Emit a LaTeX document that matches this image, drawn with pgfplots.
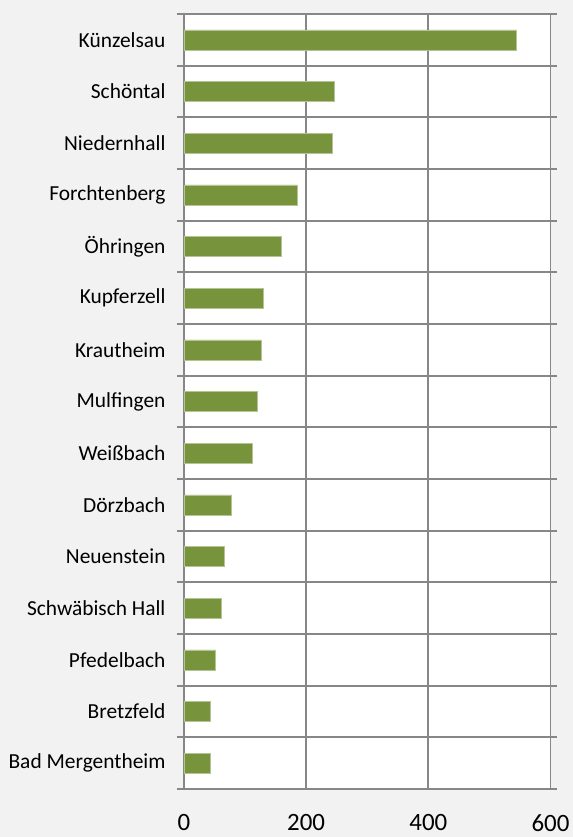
\documentclass[border=0pt]{standalone}
\usepackage{pgfplots}
\pgfplotsset{compat=1.18}
\usepackage{fontspec}
\setmainfont{Carlito}
\definecolor{bg}{HTML}{F2F2F2}
\definecolor{barc}{HTML}{77933C}
\definecolor{gridc}{HTML}{878787}
\begin{document}
\begin{tikzpicture}
\path[use as bounding box, fill=bg] (-184bp,-48bp) rectangle (389bp,789bp);
\begin{axis}[
  at={(0,0)}, anchor=south west,
  scale only axis,
  width=366.5bp, height=775bp,
  xbar, bar width=20bp,
  xmin=0, xmax=600,
  ymin=-0.5, ymax=14.5,
  y dir=reverse,
  xtick={0,200,400,600},
  ytick={0,...,14},
  yticklabels={Künzelsau,Schöntal,Niedernhall,Forchtenberg,Öhringen,Kupferzell,Krautheim,Mulfingen,Weißbach,Dörzbach,Neuenstein,Schwäbisch Hall,Pfedelbach,Bretzfeld,Bad Mergentheim},
  minor ytick={-0.5,0.5,...,14.5},
  xmajorgrids=true, ymajorgrids=false, yminorgrids=true,
  grid style={gridc, line width=1.8bp},
  minor grid style={gridc, line width=1.8bp},
  axis line style={gridc, line width=1.8bp},
  major tick length=0pt, minor tick length=7bp,
  tick align=outside,
  minor tick style={gridc, line width=1.8bp},
  axis background/.style={fill=white},
  /pgf/number format/assume math mode=true,
  xticklabel style={font=\fontsize{25}{30}\selectfont, inner sep=0pt, anchor=north, yshift=-25bp},
  yticklabel style={font=\fontsize{21.5}{25}\selectfont, xshift=-15bp},
]
\addplot[fill=barc, draw=barc!55!white, line width=0.6bp] coordinates {
(543.5,0) (245.7,1) (242.5,2) (185.3,3) (159,4) (130.3,5) (126.4,6) (120.4,7) (111.2,8) (78,9) (66.5,10) (61,11) (51.2,12) (42.5,13) (42.5,14)
};
\end{axis}
\end{tikzpicture}
\end{document}
